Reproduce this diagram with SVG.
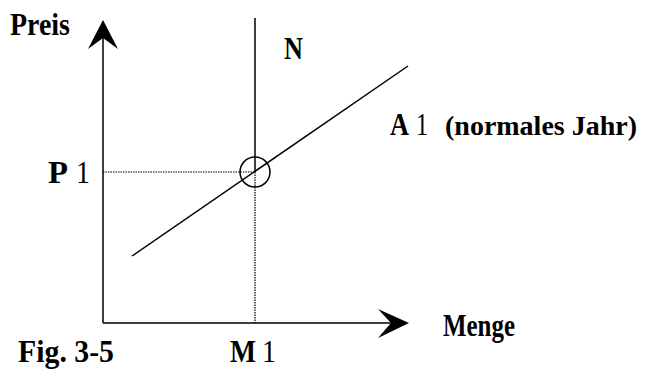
<svg xmlns="http://www.w3.org/2000/svg" width="648" height="370" viewBox="0 0 648 370">
<style>
text{font-family:"Liberation Serif","Times New Roman",serif;font-weight:700;fill:#000}
.n{font-weight:400}
.ln{stroke:#000;stroke-width:1.5;fill:none}
.dot{stroke:#000;stroke-width:1.2;stroke-dasharray:1.5 1;fill:none}
</style>
<rect width="648" height="370" fill="#fff"/>
<g id="connectors">
<line class="ln" x1="103" y1="323" x2="103" y2="26"/>
<polygon points="103,20 118,49 103,38 88,49" fill="#000"/>
<line class="ln" x1="103" y1="323" x2="402" y2="323"/>
<polygon points="409,323 378,309 391,323 378,338" fill="#000"/>
<line class="ln" x1="255" y1="18" x2="255" y2="172"/>
<line class="dot" x1="255" y1="172" x2="255" y2="323"/>
<line class="dot" x1="103" y1="172" x2="255" y2="172"/>
<line class="ln" x1="132" y1="256" x2="408" y2="66"/>
<circle class="ln" cx="255" cy="172" r="15"/>
</g>
<g id="labels">
<text x="10" y="35" font-size="31" textLength="60" lengthAdjust="spacingAndGlyphs">Preis</text>
<text x="284" y="59" font-size="31" textLength="19" lengthAdjust="spacingAndGlyphs">N</text>
<text x="390" y="135" font-size="31" textLength="19" lengthAdjust="spacingAndGlyphs">A</text>
<text class="n" x="416" y="135" font-size="31" textLength="12" lengthAdjust="spacingAndGlyphs">1</text>
<text x="445" y="135" font-size="28" textLength="192" lengthAdjust="spacingAndGlyphs">(normales Jahr)</text>
<text x="48" y="183" font-size="31" textLength="20" lengthAdjust="spacingAndGlyphs">P</text>
<text class="n" x="76" y="183" font-size="31" textLength="14" lengthAdjust="spacingAndGlyphs">1</text>
<text x="18" y="362" font-size="31" textLength="96" lengthAdjust="spacingAndGlyphs">Fig. 3-5</text>
<text x="230" y="362" font-size="31" textLength="26" lengthAdjust="spacingAndGlyphs">M</text>
<text class="n" x="262" y="362" font-size="31" textLength="14" lengthAdjust="spacingAndGlyphs">1</text>
<text x="443" y="336" font-size="31" textLength="72" lengthAdjust="spacingAndGlyphs">Menge</text>
</g>
</svg>
